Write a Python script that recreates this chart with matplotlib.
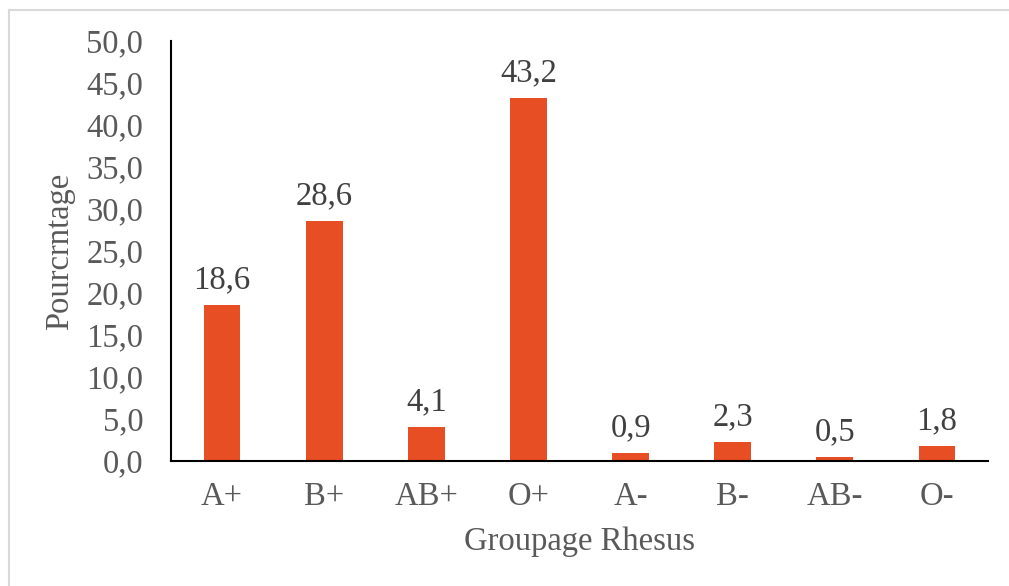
import matplotlib
matplotlib.use("Agg")
import matplotlib.pyplot as plt
from matplotlib.lines import Line2D

categories = ["A+", "B+", "AB+", "O+", "A-", "B-", "AB-", "O-"]
values = [18.6, 28.6, 4.1, 43.2, 0.9, 2.3, 0.5, 1.8]
yticks = [0, 5, 10, 15, 20, 25, 30, 35, 40, 45, 50]

plt.rcParams["font.family"] = ["Liberation Serif", "DejaVu Serif"]

W, H = 1009, 586
FS = 23.5
fig = plt.figure(figsize=(W / 100, H / 100), dpi=100)
ax = fig.add_axes([171 / W, 1 - 461 / H, (988 - 171) / W, (461 - 41) / H])

bar_color = "#E84E24"
x = list(range(len(categories)))
ax.bar(x, values, width=0.36, color=bar_color, zorder=2)

for xi, v in zip(x, values):
    ax.annotate(f"{v:.1f}".replace(".", ","), (xi, v), xytext=(0, 7),
                textcoords="offset points", ha="center", va="bottom",
                fontsize=FS, color="#404040")

ax.set_xlim(-0.5, len(categories) - 0.5)
ax.set_ylim(0, 50)
ax.set_yticks(yticks)
ax.set_yticklabels([f"{t:.1f}".replace(".", ",") for t in yticks])
ax.set_xticks(x)
ax.set_xticklabels(categories)
ax.tick_params(axis="both", length=0, labelsize=FS, labelcolor="#595959")
ax.tick_params(axis="y", pad=20)
ax.tick_params(axis="x", pad=15)

for side in ["top", "right"]:
    ax.spines[side].set_visible(False)
for side in ["left", "bottom"]:
    ax.spines[side].set_color("black")
    ax.spines[side].set_linewidth(1.5)

ax.set_ylabel("Pourcrntage", fontsize=FS, color="#595959", labelpad=8)
ax.set_xlabel("Groupage Rhesus", fontsize=FS, color="#595959", labelpad=10)

# Light frame edges around the chart area
fig.add_artist(Line2D([9 / W, 1], [1 - 10 / H, 1 - 10 / H],
                      color="#D9D9D9", linewidth=1.5, transform=fig.transFigure))
fig.add_artist(Line2D([9 / W, 9 / W], [0, 1 - 10 / H],
                      color="#D9D9D9", linewidth=1.5, transform=fig.transFigure))

fig.savefig("out.png", dpi=100, facecolor="white")
